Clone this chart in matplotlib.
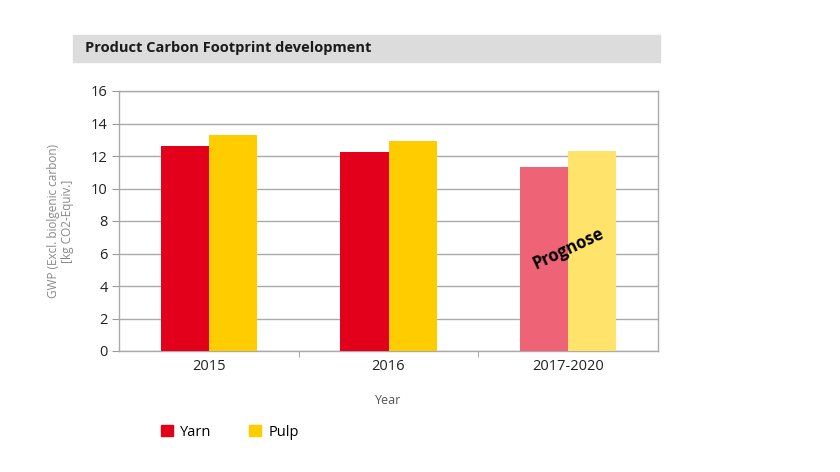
import matplotlib.pyplot as plt
from matplotlib.patches import Rectangle
import numpy as np

plt.rcParams['font.family'] = ['Open Sans', 'DejaVu Sans']

years = ['2015', '2016', '2017-2020']
yarn = [12.6, 12.25, 11.3]
pulp = [13.3, 12.9, 12.3]
yarn_colors = ['#e2001a', '#e2001a', '#ee6476']
pulp_colors = ['#ffcc00', '#ffcc00', '#ffe36a']

fig = plt.figure(figsize=(8.4, 4.72), dpi=100)
fig.patch.set_facecolor('white')

# title bar
fig.patches.append(Rectangle((73/840, 1-62/472), (660-73)/840, 27/472,
                             transform=fig.transFigure, color='#dcdcdc', zorder=0))
fig.text(85/840, 1-48/472, 'Product Carbon Footprint development',
         fontsize=10.5, fontweight='bold', va='center', ha='left', color='#1a1a1a')

ax = fig.add_axes([119/840, 1-351/472, (658-119)/840, (351-91)/472])
ax.set_facecolor('none')

x = np.arange(len(years))
w = 0.268
b1 = ax.bar(x - w/2, yarn, w, color=yarn_colors, label='Yarn', zorder=3)
b2 = ax.bar(x + w/2, pulp, w, color=pulp_colors, label='Pulp', zorder=3)

ax.set_xlim(-0.5, 2.5)
ax.set_ylim(0, 16)
ax.set_yticks(range(0, 17, 2))
ax.set_xticks(x)
ax.set_xticklabels(years)
ax.set_xticks([0.5, 1.5], minor=True)
ax.tick_params(axis='x', which='major', length=0, labelsize=10.5, pad=6, labelcolor='#222222')
ax.tick_params(axis='x', which='minor', length=4, color='#999999', direction='out')
ax.tick_params(axis='y', length=5, color='#999999', labelsize=10.5, labelcolor='#222222', pad=3)
ax.grid(axis='y', color='#aaaaaa', linewidth=1, zorder=0)
for s in ax.spines.values():
    s.set_color('#aaaaaa')
    s.set_linewidth(1)

ax.set_ylabel('GWP (Excl. biolgenic carbon)\n[kg CO2-Equiv.]', fontsize=8.5,
              color='#888888', labelpad=12, linespacing=1.1)
ax.set_xlabel('Year', fontsize=9, color='#555555', labelpad=14)

ax.text(2, 6.3, 'Prognose', rotation=25, fontsize=12, fontweight='bold',
        ha='center', va='center', zorder=4)

leg = fig.legend(handles=[b1, b2], labels=['Yarn', 'Pulp'], loc='center left',
                 bbox_to_anchor=(148/840, 1-432/472), ncol=2, frameon=False,
                 handlelength=0.8, handleheight=0.8, columnspacing=2.6,
                 handletextpad=0.5, fontsize=10.5)
leg.legend_handles[0].set_color('#e2001a')
leg.legend_handles[1].set_color('#ffcc00')

fig.savefig('out.png', dpi=100)
